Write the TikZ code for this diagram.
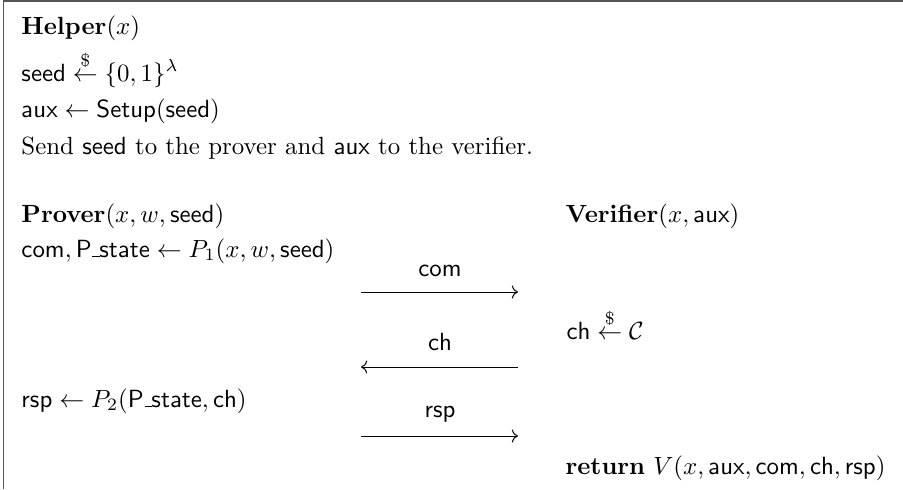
\documentclass[tikz,border=0pt]{standalone}
\usepackage{amsmath,amssymb}
\usetikzlibrary{arrows.meta}
\definecolor{frameink}{HTML}{555555}
\newcommand{\pstate}{\textsf{P\kern.03em\rule{.3em}{.3pt}\kern-.02em state}}

\begin{document}
\begin{tikzpicture}[x=0.402pt, y=-0.402pt, line width=0.4pt,
    txt/.style={anchor=base west, inner sep=0pt},
    lbl/.style={anchor=base, inner sep=0pt, font=\sffamily},
    msg/.style={->}]
  \useasboundingbox (0,0) rectangle (903,489);
  % frame (open to the right and below)
  \draw[frameink, line width=0.6pt] (3.5,489) -- (3.5,1.2) -- (903,1.2);
  % helper
  \node[txt] (helper) at (21,34) {$\mathbf{Helper}(x)$};
  \node[txt] (seedln) at (21,81) {$\mathsf{seed} \overset{\$}{\leftarrow} \{0,1\}^{\lambda}$};
  \node[txt] (auxln) at (21,117) {$\mathsf{aux} \leftarrow \mathsf{Setup}(\mathsf{seed})$};
  \node[txt] (sendln) at (21,154) {Send \textsf{seed} to the prover and \textsf{aux} to the verifier.};
  % prover and verifier
  \node[txt] (prover) at (21,222) {$\mathbf{Prover}(x, w, \mathsf{seed})$};
  \node[txt] (verifier) at (565,222) {$\mathbf{Verifier}(x, \mathsf{aux})$};
  \node[txt] (pone) at (21,257) {$\mathsf{com}, \pstate \leftarrow P_1(x, w, \mathsf{seed})$};
  \node[txt] (chpick) at (566,339) {$\mathsf{ch} \overset{\$}{\leftarrow} \mathcal{C}$};
  \node[txt] (ptwo) at (21,407) {$\mathsf{rsp} \leftarrow P_2(\pstate, \mathsf{ch})$};
  \node[txt] (ret) at (565,474) {$\mathbf{return}\ V(x, \mathsf{aux}, \mathsf{com}, \mathsf{ch}, \mathsf{rsp})$};
  % messages
  \coordinate (comL) at (361,292);  \coordinate (comR) at (518,292);
  \coordinate (chL) at (361,367);   \coordinate (chR) at (518,367);
  \coordinate (rspL) at (361,436);  \coordinate (rspR) at (518,436);
  \draw[msg] (comL) -- (comR);
  \draw[msg] (chR) -- (chL);
  \draw[msg] (rspL) -- (rspR);
  \node[lbl] (comlbl) at (440,276) {com};
  \node[lbl] (chlbl) at (440,350) {ch};
  \node[lbl] (rsplbl) at (440,417) {rsp};
\end{tikzpicture}
\end{document}
